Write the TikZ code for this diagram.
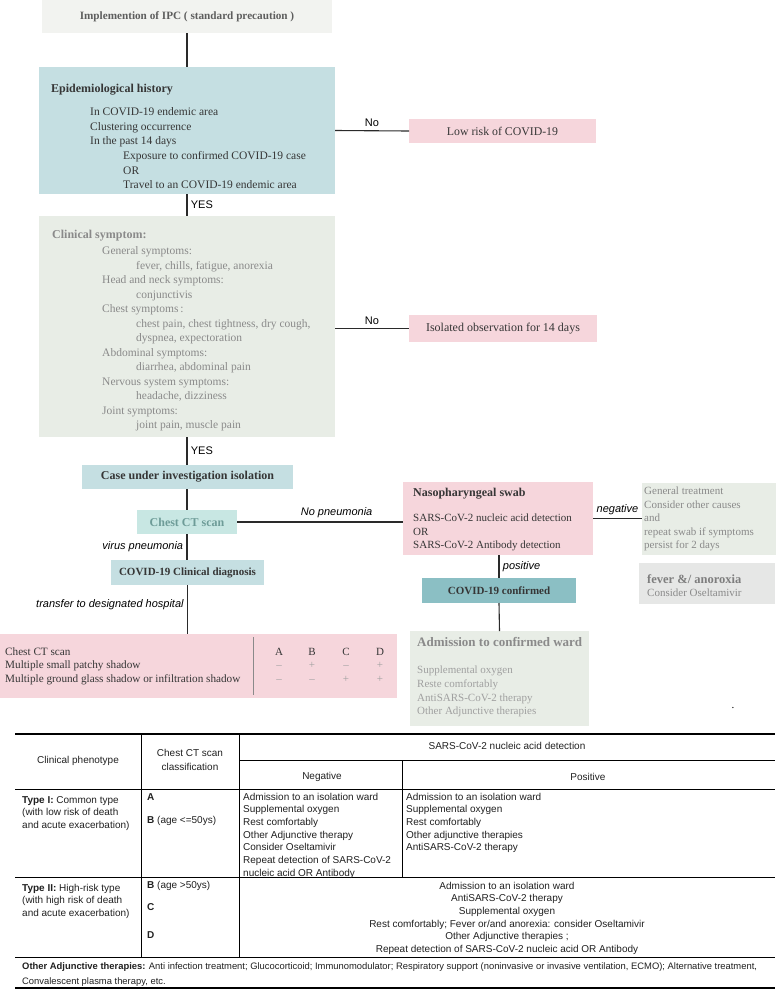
\documentclass[tikz,border=0pt]{standalone}
\usepackage{fontspec}
\setmainfont{Liberation Serif}
\setsansfont{Liberation Sans}

\definecolor{ipcgray}{HTML}{F2F3F0}
\definecolor{epiblue}{HTML}{C5DFE2}
\definecolor{ctaqua}{HTML}{C8E7E3}
\definecolor{ctteal}{HTML}{6E9C98}
\definecolor{confteal}{HTML}{8BBFC4}
\definecolor{lowpink}{HTML}{F6D6DC}
\definecolor{symgreen}{HTML}{E8EDE6}
\definecolor{fevergray}{HTML}{E6E7E6}
\definecolor{txtdark}{HTML}{363636}
\definecolor{txtgray}{HTML}{8A8A8A}
\definecolor{txtlight}{HTML}{A0A0A0}
\definecolor{linedark}{HTML}{2A2A2A}
\definecolor{tabtext}{HTML}{202020}

\begin{document}
\begin{tikzpicture}[x=1pt,y=-1pt,
  box/.style={anchor=north west,inner sep=0pt,outer sep=0pt},
  txt/.style={anchor=base west,align=left,inner sep=0pt},
  conn/.style={line width=1.1pt,draw=linedark},
  lbl/.style={font=\sffamily\fontsize{11}{13}\selectfont,text=black},
  ilbl/.style={font=\sffamily\itshape\fontsize{11}{13}\selectfont,text=black},
  tab/.style={font=\sffamily\fontsize{10}{12.7}\selectfont,text=tabtext,inner sep=0pt}]

\path[use as bounding box] (0,0) rectangle (778,991);

% flow chart boxes (text anchored at the baseline of its last line)
\node[box,fill=ipcgray,minimum width=290pt,minimum height=33pt,
  font=\bfseries\fontsize{11.2}{12}\selectfont,text=txtdark!80] (ipc) at (42,0)
  {Implemention of IPC ( standard precaution )};
\node[box,fill=epiblue,minimum width=296pt,minimum height=127pt] (epi) at (39,67) {};
\node[txt,font=\fontsize{11.5}{14.6}\selectfont,text=txtdark] (epitxt) at (51,188.6)
  {{\bfseries\fontsize{12}{14.6}\selectfont Epidemiological history}\\[9pt]
   \hspace*{39pt}In COVID-19 endemic area\\
   \hspace*{39pt}Clustering occurrence\\
   \hspace*{39pt}In the past 14 days\\
   \hspace*{72pt}Exposure to confirmed COVID-19 case\\
   \hspace*{72pt}OR\\
   \hspace*{72pt}Travel to an COVID-19 endemic area};
\node[box,fill=lowpink,minimum width=187pt,minimum height=24pt,
  font=\fontsize{11.8}{13}\selectfont,text=txtdark] (lowrisk) at (409,119) {Low risk of COVID-19};

\node[box,fill=symgreen,minimum width=296pt,minimum height=221pt] (clin) at (39,216) {};
\node[txt,font=\fontsize{11.5}{14.5}\selectfont,text=txtgray] (clintxt) at (52,428.5)
  {{\bfseries\fontsize{12}{14.5}\selectfont Clinical symptom:}\\[2pt]
   \hspace*{50pt}General symptoms:\\
   \hspace*{84pt}fever, chills, fatigue, anorexia\\
   \hspace*{50pt}Head and neck symptoms:\\
   \hspace*{84pt}conjunctivis\\
   \hspace*{50pt}Chest symptoms\,:\\
   \hspace*{84pt}chest pain, chest tightness, dry cough,\\
   \hspace*{84pt}dyspnea, expectoration\\
   \hspace*{50pt}Abdominal symptoms:\\
   \hspace*{84pt}diarrhea, abdominal pain\\
   \hspace*{50pt}Nervous system symptoms:\\
   \hspace*{84pt}headache, dizziness\\
   \hspace*{50pt}Joint symptoms:\\
   \hspace*{84pt}joint pain, muscle pain};
\node[box,fill=lowpink,minimum width=188pt,minimum height=27pt,
  font=\fontsize{12}{13}\selectfont,text=txtdark] (isol) at (409,315) {Isolated observation for 14 days};

\node[box,fill=epiblue,minimum width=211pt,minimum height=24pt,
  font=\bfseries\fontsize{12}{13}\selectfont,text=txtdark] (case) at (82,465) {Case under investigation isolation};
\node[box,fill=ctaqua,minimum width=100pt,minimum height=24pt,
  font=\bfseries\fontsize{12}{14}\selectfont,text=ctteal] (chestct) at (137,510) {Chest CT scan};
\node[box,fill=epiblue,minimum width=153pt,minimum height=25pt,
  font=\bfseries\fontsize{11}{13}\selectfont,text=txtdark] (diag) at (111,560) {COVID-19 Clinical diagnosis};

% CT classification
\node[box,fill=lowpink,minimum width=397pt,minimum height=64pt] (cttab) at (0,634) {};
\draw[txtgray,line width=0.6pt] (253,637) -- (253,695);
\node[txt,font=\fontsize{11.2}{13.5}\selectfont,text=txtdark] (cttxt) at (5,682)
  {Chest CT scan\\Multiple small patchy shadow\\Multiple ground glass shadow or infiltration shadow};
\foreach \c/\x/\p/\q [count=\i] in {A/279/–/–,B/312/+/–,C/346/–/+,D/380/+/+} {
  \node[anchor=base,inner sep=0pt,font=\fontsize{11}{13}\selectfont,text=txtdark] (ct\i) at (\x,655) {\c};
  \node[anchor=base,inner sep=0pt,font=\fontsize{11}{13}\selectfont,text=txtlight] (cts\i) at (\x,668.5) {\p};
  \node[anchor=base,inner sep=0pt,font=\fontsize{11}{13}\selectfont,text=txtlight] (ctg\i) at (\x,682) {\q};
}

% swab branch
\node[box,fill=lowpink,minimum width=190pt,minimum height=73pt] (naso) at (403,482) {};
\node[txt,font=\fontsize{11}{13.5}\selectfont,text=txtdark] (nasotxt) at (413,548.5)
  {{\bfseries\fontsize{12}{13.5}\selectfont Nasopharyngeal swab}\\[12pt]
   SARS-CoV-2 nucleic acid detection\\OR\\SARS-CoV-2 Antibody detection};
\node[box,fill=symgreen,minimum width=134pt,minimum height=72pt] (gen) at (642,483) {};
\node[txt,font=\fontsize{11}{13.5}\selectfont,text=txtgray] (gentxt) at (644,548.5)
  {General treatment\\Consider other causes\\and\\repeat swab if symptoms\\persist for 2 days};
\node[box,fill=fevergray,minimum width=136pt,minimum height=41pt] (fever) at (639,563) {};
\node[txt,font=\fontsize{11}{13.5}\selectfont,text=txtgray] (fevertxt) at (647,596.5)
  {{\bfseries\fontsize{12.5}{13.5}\selectfont\color{txtgray!110} fever \&/ anoroxia}\\Consider Oseltamivir};
\node[box,fill=confteal,minimum width=154pt,minimum height=25pt,
  font=\bfseries\fontsize{11}{13}\selectfont,text=txtdark] (conf) at (422,578) {COVID-19 confirmed};
\node[box,fill=symgreen,minimum width=179pt,minimum height=95pt] (adm) at (410,631) {};
\node[txt,font=\fontsize{11}{13.7}\selectfont,text=txtlight] (admtxt) at (417,714.8)
  {{\bfseries\fontsize{13}{13.7}\selectfont\color{txtgray} Admission to confirmed ward}\\[14pt]
   Supplemental oxygen\\Reste comfortably\\AntiSARS-CoV-2 therapy\\Other Adjunctive therapies};
\node[inner sep=0pt,font=\fontsize{11}{13}\selectfont] (dot) at (733,708) {.};

% connectors
\draw[conn] (ipc.south) -- (epi.north);
\draw[conn] (epi.east) -- node[lbl,above] (no1) {No} (lowrisk.west);
\draw[conn] (epi.south) -- node[lbl,right] (yes1) {YES} (clin.north);
\draw[conn] (clin.east |- isol.west) -- node[lbl,above] (no2) {No} (isol.west);
\draw[conn] (clin.south) -- node[lbl,right] (yes2) {YES} (clin.south |- case.north);
\draw[conn] (case.south -| chestct.north) -- (chestct.north);
\draw[conn] (chestct.east) -- node[ilbl,above,pos=0.6] (nopn) {No pneumonia} (chestct.east -| naso.west);
\draw[conn] (chestct.south) -- node[ilbl,left] (virus) {virus pneumonia} (chestct.south |- diag.north);
\draw[conn] (diag.south) -- node[ilbl,left,pos=0.4] (transfer) {transfer to designated hospital} (diag.south |- cttab.north);
\draw[conn] (naso.east) -- node[ilbl,above] (neg) {negative} (naso.east -| gen.west);
\draw[conn] (naso.south -| conf.north) -- node[ilbl,right] (pos) {positive} (conf.north);
\draw[conn] (conf.south) -- (adm.north);

% treatment table
\draw[line width=1.2pt] (15,734) -- (775,734);
\draw[line width=0.8pt] (239,760) -- (775,760);
\draw[line width=0.8pt] (15,789) -- (775,789);
\draw[line width=0.8pt] (15,877) -- (775,877);
\draw[line width=0.8pt] (15,957) -- (775,957);
\draw[line width=1.2pt] (15,988) -- (775,988);
\draw[line width=0.8pt] (141,734) -- (141,957);
\draw[line width=0.8pt] (239,734) -- (239,957);
\draw[line width=0.8pt] (402,760) -- (402,877);

\node[tab] (hphen) at (78,761) {Clinical phenotype};
\node[tab,align=center] (hct) at (190,760) {Chest CT scan\\[1.5pt]classification};
\node[tab] (hsars) at (507,746) {SARS-CoV-2 nucleic acid detection};
\node[tab] (hneg) at (322,777) {Negative};
\node[tab] (hpos) at (588,777) {Positive};

\node[tab,txt] (type1) at (22,828.4)
  {\textbf{Type I:} Common type\\ (with low risk of death\\ and acute exacerbation)};
\node[tab,txt] (clsA) at (147,800) {\textbf{A}};
\node[tab,txt] (clsB) at (147,823) {\textbf{B} (age <=50ys)};
\node[tab,txt] (negtxt) at (243,876.2)
  {Admission to an isolation ward\\Supplemental oxygen\\Rest comfortably\\Other Adjunctive therapy\\
   Consider Oseltamivir\\Repeat detection of SARS-CoV-2\\nucleic acid OR Antibody};
\node[tab,txt] (postxt) at (406,850.8)
  {Admission to an isolation ward\\Supplemental oxygen\\Rest comfortably\\Other adjunctive therapies\\
   AntiSARS-CoV-2 therapy};

\node[tab,txt] (type2) at (22,916.4)
  {\textbf{Type II:} High-risk type\\ (with high risk of death\\ and acute exacerbation)};
\node[tab,txt] (clsB2) at (147,888) {\textbf{B} (age >50ys)};
\node[tab,txt] (clsC) at (147,910) {\textbf{C}};
\node[tab,txt] (clsD) at (147,938) {\textbf{D}};
\node[tab,anchor=base,align=center] (hightxt) at (507,952.5)
  {Admission to an isolation ward\\AntiSARS-CoV-2 therapy\\Supplemental oxygen\\
   Rest comfortably; Fever or/and anorexia: consider Oseltamivir\\Other Adjunctive therapies ;\\
   Repeat detection of SARS-CoV-2 nucleic acid OR Antibody};

\node[tab,txt,font=\sffamily\fontsize{9.4}{15}\selectfont] (footnote) at (22,984)
  {\textbf{Other Adjunctive therapies:} Anti infection treatment; Glucocorticoid; Immunomodulator; Respiratory support (noninvasive or invasive ventilation, ECMO); Alternative treatment,\\
   Convalescent plasma therapy, etc.};
\end{tikzpicture}
\end{document}
